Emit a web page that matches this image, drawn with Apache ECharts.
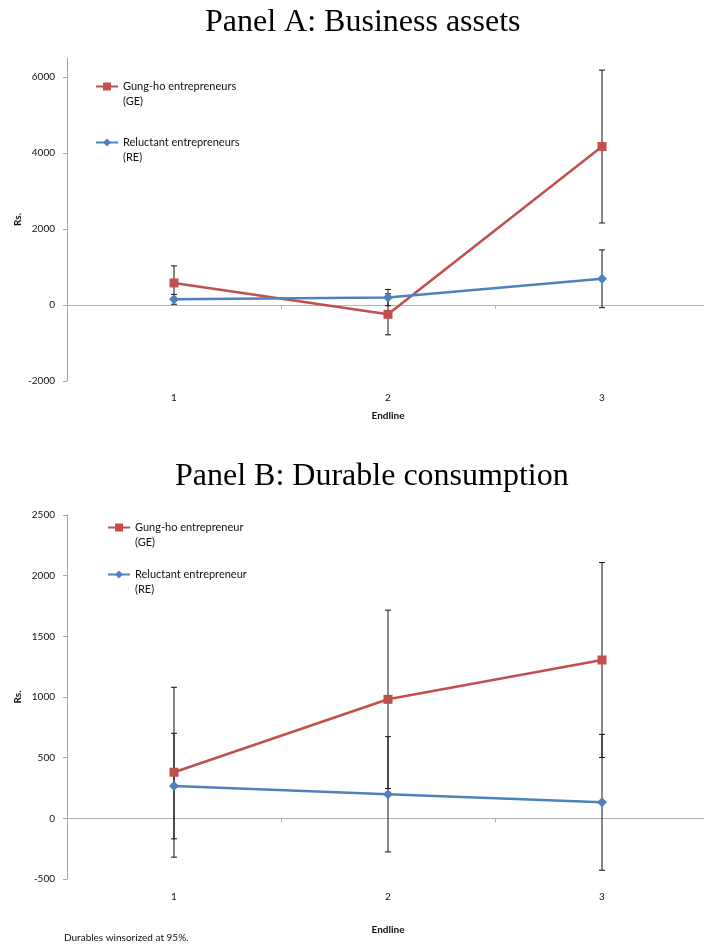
<!DOCTYPE html>
<html>
<head>
<meta charset="utf-8">
<script src="https://cdn.jsdelivr.net/npm/echarts@6/dist/echarts.min.js"></script>
<style>html,body{margin:0;padding:0;background:#fff;}#c{width:704px;height:950px;}</style>
</head>
<body>
<div id="c"></div>
<script>
// ---- data ----
const categories = ['1', '2', '3'];
// Panel A: Business assets
const geAssets = [580, -245, 4170];
const geAssetsErr = [450, 540, 2012];
const reAssets = [150, 195, 690];
const reAssetsErr = [130, 215, 760];
const yTicksA = [-2000, 0, 2000, 4000, 6000];
// Panel B: Durable consumption
const geDurables = [380, 981, 1305];
const geDurablesErr = [700, 735, 803];
const reDurables = [266, 198, 132];
const reDurablesErr = [435, 475, 560];

const RED = '#C0504D', BLUE = '#4F81BD';
const FONT = 'Lato';

function errData(vals, errs) {
  return vals.map((v, i) => [i, v - errs[i], v + errs[i]]);
}
function errSeries(name, vals, errs, gi) {
  return {
    type: 'custom', name: name, xAxisIndex: gi * 2, yAxisIndex: gi, z: 1,
    data: errData(vals, errs),
    encode: { x: 0, y: [1, 2] },
    renderItem: function (params, api) {
      const x = api.value(0);
      const lo = api.coord([x, api.value(1)]);
      const hi = api.coord([x, api.value(2)]);
      const w = 3;
      const st = { stroke: '#111', lineWidth: 1 };
      return {
        type: 'group',
        children: [
          { type: 'line', shape: { x1: lo[0], y1: lo[1], x2: hi[0], y2: hi[1] }, style: st },
          { type: 'line', shape: { x1: lo[0] - w, y1: lo[1], x2: lo[0] + w, y2: lo[1] }, style: st },
          { type: 'line', shape: { x1: hi[0] - w, y1: hi[1], x2: hi[0] + w, y2: hi[1] }, style: st }
        ]
      };
    }
  };
}
function lineSeries(name, vals, color, symbol, size, gi) {
  return {
    type: 'line', name: name, xAxisIndex: gi * 2, yAxisIndex: gi, z: 3,
    data: vals, symbol: symbol, symbolSize: size,
    itemStyle: { color: color }, lineStyle: { color: color, width: 2.5 },
    emphasis: { disabled: true }
  };
}
function xAxes(gi, nameGap, labelMargin) {
  return [
    {
      type: 'category', gridIndex: gi, data: categories, position: 'bottom',
      axisLine: { show: false, onZero: false }, axisTick: { show: false },
      axisLabel: { color: '#111', fontFamily: FONT, fontSize: 10, margin: labelMargin },
      name: 'Endline', nameLocation: 'middle', nameGap: nameGap,
      nameTextStyle: { color: '#111', fontFamily: FONT, fontSize: 10, fontWeight: 'bold' }
    },
    {
      type: 'category', gridIndex: gi, data: categories, position: 'bottom',
      axisLine: { show: true, onZero: true, lineStyle: { color: '#b3b3b3', width: 1 } },
      axisTick: { show: true, length: 4, lineStyle: { color: '#b3b3b3' } },
      axisLabel: { show: false }
    }
  ];
}
const yLabel = { color: '#111', fontFamily: FONT, fontSize: 10, margin: 12,
  formatter: function (v) { return String(v); } };
const yCommon = {
  type: 'value',
  axisLine: { show: true, onZero: false, lineStyle: { color: '#a6a6a6' } },
  axisTick: { show: true, length: 4, lineStyle: { color: '#a6a6a6' } },
  splitLine: { show: false },
  axisLabel: yLabel,
  name: 'Rs.', nameLocation: 'middle', nameGap: 44, nameMoveOverlap: false,
  nameTextStyle: { color: '#111', fontFamily: FONT, fontSize: 10, fontWeight: 'bold' }
};
function legend(names, tags, left, top, gap) {
  return {
    orient: 'vertical', left: left, top: top, itemGap: gap, padding: 0,
    itemWidth: 22, itemHeight: 10,
    data: names,
    formatter: function (n) { return '\n' + n + '\n' + tags[names.indexOf(n)]; },
    textStyle: { color: '#111', fontFamily: FONT, fontSize: 11, lineHeight: 15 },
    selectedMode: false
  };
}

const option = {
  animation: false,
  backgroundColor: '#fff',
  title: [
    { text: 'Panel A: Business assets', left: 205, top: 7, padding: 0, textAlign: 'left',
      textStyle: { fontFamily: 'Liberation Serif', fontSize: 32, fontWeight: 'normal', color: '#000' } },
    { text: 'Panel B: Durable consumption', left: 175, top: 461, padding: 0, textAlign: 'left',
      textStyle: { fontFamily: 'Liberation Serif', fontSize: 32, fontWeight: 'normal', color: '#000' } }
  ],
  legend: [
    legend(['Gung-ho entrepreneurs', 'Reluctant entrepreneurs'], ['(GE)', '(RE)'], 95, 64, 11),
    legend(['Gung-ho entrepreneur', 'Reluctant entrepreneur'], ['(GE)', '(RE)'], 107, 505, 2)
  ],
  grid: [
    { left: 67, top: 58, width: 642, height: 323, outerBoundsMode: 'none' },
    { left: 67, top: 515, width: 642, height: 364, outerBoundsMode: 'none' }
  ],
  xAxis: [].concat(xAxes(0, 30, 12), xAxes(1, 46, 13)),
  yAxis: [
    Object.assign({}, yCommon, { gridIndex: 0, min: -2000, max: 6500,
      axisLabel: Object.assign({}, yLabel, { customValues: yTicksA }),
      axisTick: Object.assign({}, yCommon.axisTick, { customValues: yTicksA }) }),
    Object.assign({}, yCommon, { gridIndex: 1, min: -500, max: 2500, interval: 500 })
  ],
  graphic: [
    { type: 'text', left: 64, top: 933,
      style: { text: 'Durables winsorized at 95%.', fill: '#111', font: '10px Lato' } }
  ],
  series: [
    errSeries('ge-a-err', geAssets, geAssetsErr, 0),
    errSeries('re-a-err', reAssets, reAssetsErr, 0),
    lineSeries('Gung-ho entrepreneurs', geAssets, RED, 'rect', 9, 0),
    lineSeries('Reluctant entrepreneurs', reAssets, BLUE, 'diamond', 10, 0),
    errSeries('ge-b-err', geDurables, geDurablesErr, 1),
    errSeries('re-b-err', reDurables, reDurablesErr, 1),
    lineSeries('Gung-ho entrepreneur', geDurables, RED, 'rect', 9, 1),
    lineSeries('Reluctant entrepreneur', reDurables, BLUE, 'diamond', 10, 1)
  ]
};
const chart = echarts.init(document.getElementById('c'), null, { renderer: 'canvas' });
chart.setOption(option);
</script>
</body>
</html>
